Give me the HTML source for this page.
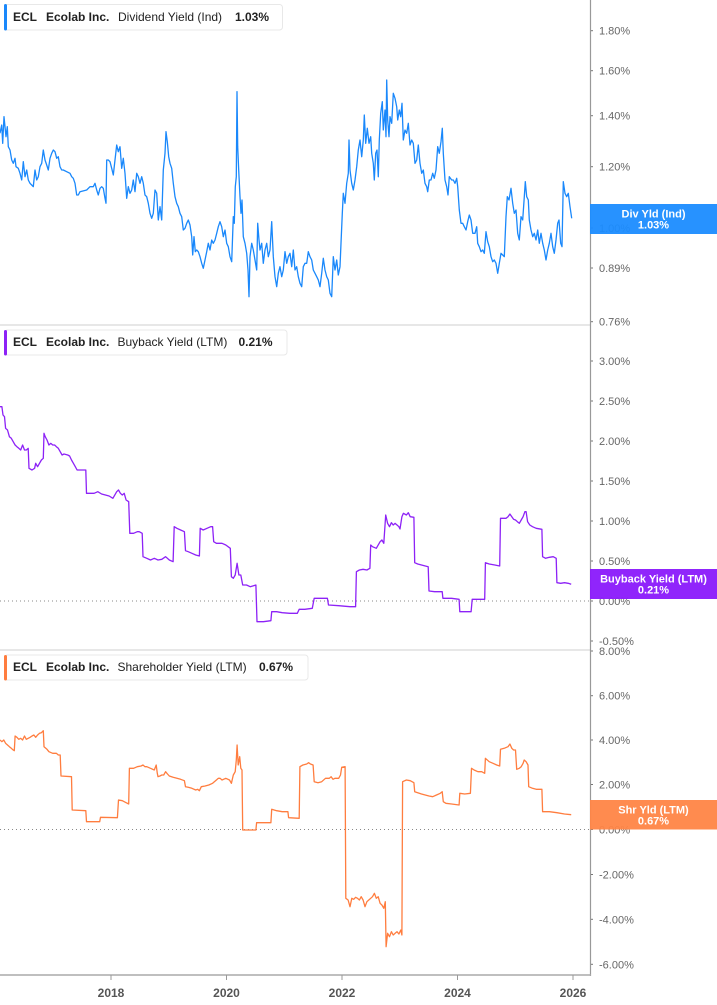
<!DOCTYPE html>
<html><head><meta charset="utf-8"><style>
html,body{margin:0;padding:0;background:#fff;}
svg{display:block;font-family:"Liberation Sans",Arial,sans-serif;}
.tk{font-size:11px;fill:#666;}
.yr{font-size:12px;font-weight:bold;fill:#555;text-anchor:middle;}
.lg{font-size:12px;fill:#222;}
.lgb{font-size:12px;fill:#222;font-weight:bold;}
.bx{font-size:11px;fill:#fff;font-weight:bold;text-anchor:middle;}
</style></head><body>
<svg width="717" height="1005" viewBox="0 0 717 1005" xmlns="http://www.w3.org/2000/svg">
<rect width="717" height="1005" fill="#fff"/>

<!-- separators & axes -->
<line x1="0" y1="325" x2="590" y2="325" stroke="#cfcfcf" stroke-width="1"/>
<line x1="0" y1="650" x2="590" y2="650" stroke="#cfcfcf" stroke-width="1"/>
<line x1="590.5" y1="0" x2="590.5" y2="976" stroke="#999" stroke-width="1.2"/>
<line x1="0" y1="975" x2="591" y2="975" stroke="#aaa" stroke-width="1.5"/>
<line x1="0" y1="601" x2="590" y2="601" stroke="#888" stroke-width="1" stroke-dasharray="1 3"/>
<line x1="0" y1="829.5" x2="590" y2="829.5" stroke="#888" stroke-width="1" stroke-dasharray="1 3"/>

<!-- year ticks -->
<g stroke="#999" stroke-width="1">
<line x1="111" y1="975" x2="111" y2="980"/>
<line x1="226.5" y1="975" x2="226.5" y2="980"/>
<line x1="342" y1="975" x2="342" y2="980"/>
<line x1="457.5" y1="975" x2="457.5" y2="980"/>
<line x1="573" y1="975" x2="573" y2="980"/>
</g>
<text class="yr" x="111" y="997">2018</text>
<text class="yr" x="226.5" y="997">2020</text>
<text class="yr" x="342" y="997">2022</text>
<text class="yr" x="457.5" y="997">2024</text>
<text class="yr" x="573" y="997">2026</text>

<!-- right axis ticks -->
<g stroke="#777" stroke-width="1">
<line x1="591" y1="30.7" x2="593" y2="30.7"/><line x1="591" y1="70.7" x2="593" y2="70.7"/>
<line x1="591" y1="115.7" x2="593" y2="115.7"/><line x1="591" y1="166.7" x2="593" y2="166.7"/>
<line x1="591" y1="228" x2="593" y2="228"/><line x1="591" y1="268" x2="593" y2="268"/>
<line x1="591" y1="321.7" x2="593" y2="321.7"/>
<line x1="591" y1="361" x2="593" y2="361"/><line x1="591" y1="401" x2="593" y2="401"/>
<line x1="591" y1="441" x2="593" y2="441"/><line x1="591" y1="481" x2="593" y2="481"/>
<line x1="591" y1="521" x2="593" y2="521"/><line x1="591" y1="561" x2="593" y2="561"/>
<line x1="591" y1="601" x2="593" y2="601"/><line x1="591" y1="641" x2="593" y2="641"/>
<line x1="591" y1="651" x2="593" y2="651"/><line x1="591" y1="695.7" x2="593" y2="695.7"/>
<line x1="591" y1="740" x2="593" y2="740"/><line x1="591" y1="784.5" x2="593" y2="784.5"/>
<line x1="591" y1="829.5" x2="593" y2="829.5"/><line x1="591" y1="874.5" x2="593" y2="874.5"/>
<line x1="591" y1="919.3" x2="593" y2="919.3"/><line x1="591" y1="964.3" x2="593" y2="964.3"/>
</g>
<text class="tk" x="599" y="34.7">1.80%</text>
<text class="tk" x="599" y="74.7">1.60%</text>
<text class="tk" x="599" y="119.7">1.40%</text>
<text class="tk" x="599" y="170.7">1.20%</text>
<text class="tk" x="599" y="232">1.00%</text>
<text class="tk" x="599" y="272">0.89%</text>
<text class="tk" x="599" y="325.7">0.76%</text>
<text class="tk" x="599" y="365">3.00%</text>
<text class="tk" x="599" y="405">2.50%</text>
<text class="tk" x="599" y="445">2.00%</text>
<text class="tk" x="599" y="485">1.50%</text>
<text class="tk" x="599" y="525">1.00%</text>
<text class="tk" x="599" y="565">0.50%</text>
<text class="tk" x="599" y="605">0.00%</text>
<text class="tk" x="599" y="645">-0.50%</text>
<text class="tk" x="599" y="655">8.00%</text>
<text class="tk" x="599" y="699.7">6.00%</text>
<text class="tk" x="599" y="744">4.00%</text>
<text class="tk" x="599" y="788.5">2.00%</text>
<text class="tk" x="599" y="833.5">0.00%</text>
<text class="tk" x="599" y="878.5">-2.00%</text>
<text class="tk" x="599" y="923.3">-4.00%</text>
<text class="tk" x="599" y="968.3">-6.00%</text>

<!-- value boxes -->
<rect x="590" y="204" width="127" height="30" fill="#1b8cff" fill-opacity="0.95"/>
<text class="bx" x="653.5" y="217.5">Div Yld (Ind)</text>
<text class="bx" x="653.5" y="228.5">1.03%</text>
<rect x="590" y="569" width="127" height="30" fill="#8a19fb" fill-opacity="0.95"/>
<text class="bx" x="653.5" y="582.5">Buyback Yield (LTM)</text>
<text class="bx" x="653.5" y="593.5">0.21%</text>
<rect x="590" y="800" width="127" height="29.5" fill="#ff8546" fill-opacity="0.95"/>
<text class="bx" x="653.5" y="813.5">Shr Yld (LTM)</text>
<text class="bx" x="653.5" y="824.5">0.67%</text>

<!-- dividend yield -->
<polyline fill="none" stroke="#1a88fb" stroke-width="1.3" stroke-linejoin="round" points="0,133.3 1.7,125 2.7,143.3 4,116.7 6,136.7 7.3,126.7 8.3,146.7 10,150 11.7,160 13.3,163.3 15,158.3 16,166.7 18.3,168.3 20,173.3 21.7,180 23.3,161.7 25,176.7 26.7,170 28.3,180 30,183.3 31.7,185 33.3,186.7 35,170 36.7,180 38.3,176.7 40,166.7 41.7,163.3 43.3,150 45,160 46.7,165 48.3,170 50,158.3 51.7,153.3 53.3,150 55,151.7 56.7,158.3 58.3,156.7 60,166.7 61.7,170 63.3,170 66.7,171.7 70,173.3 71.7,176.7 73.3,178.3 75,183.3 76.7,195 78.3,195 80,191.7 86.7,190 90,186.7 93.3,186.7 95,183.3 96.7,190 98.3,195 100,188.3 101.7,186.7 103.3,188.3 105,198.3 106,203.3 106.7,160 108.3,160 110,161.7 111.7,168.3 113.3,175 115,160 116.7,145 118.3,151.7 120,146.7 121.7,168.3 123.3,158.3 125,173.3 126.7,198.3 128.3,186.7 130,193.3 131.7,190 133.3,180 135,191.7 136.7,173.3 138.3,176.7 140,183.3 141.7,176.7 143.3,183.3 145,195 146.7,196.7 148.3,203.3 150,213.3 151.7,218.3 153.3,213.3 155,190 156.7,193.3 158.3,220 160,206.7 161.7,220 163.3,170 165,153.3 166,131.7 167.3,141.7 168.7,156.7 170,163.3 171.7,168.3 173.3,183.3 175,196.7 176.7,203.3 178.3,206.7 180,213.3 181.7,216.7 183.3,230 185,228.3 186.7,223.3 188.3,220 190,225 191.7,236.7 192.7,255 194,236.7 195.3,251.7 196.7,250 198.3,251.7 200,256.7 201.7,263.3 203.3,268.3 205,260 206.7,251.7 208.3,243.3 210,250 211.7,240 213.3,243.3 215,240 216.7,233.3 218.3,226.7 220,221.7 221.7,226.7 223.3,236.7 225,230 226.7,243.3 228.3,246.7 230,256.7 231.7,261.7 233.3,216.7 234.3,223.3 235.3,186.7 236.3,176.7 237,91.7 237.7,146.7 238.7,170 240,196.7 241,213.3 242,200 243.3,236.7 245,243.3 246.7,253.3 248,270 249,296.7 250,256.7 251.7,243.3 253.3,250 255,260 256.7,270 257.7,223.3 259,240 260,250 261.7,243.3 263.3,263.3 265,250 266.7,243.3 268.3,256.7 270,250 271.7,221.7 273.3,256.7 275,276.7 276.7,286.7 278.3,273.3 280,266.7 281.7,276.7 283.3,270 285,251.7 286.7,263.3 288.3,256.7 290,253.3 291.7,266.7 293.3,250 295,270 296.7,266.7 298.3,276.7 300,283.3 301.7,286.7 303.3,266.7 305,263.3 306.7,263.3 308.3,251.7 310,256.7 311.7,260 313.3,270 315,273.3 316.7,276.7 318.3,280 320,286.7 321.7,273.3 323.3,258.3 325,270 326.7,276.7 328.3,280 330,293.3 331.7,296.7 333.3,256.7 335,270 336.7,260 338.3,275 340,266.7 341,243.3 342.3,213.3 343.3,193.3 345,203.3 346.7,183.3 348.3,173.3 349,140 350,170 351.7,183.3 353.3,190 355,180 356.7,166.7 358.3,150 360,140 361.7,156.7 363.3,140 364.3,115 365.7,143.3 367.3,128.3 369,143.3 370.7,136.7 371.7,153.3 373.3,163.3 374.3,180 375.7,153.3 377,150 378.3,176.7 379.3,140 380.7,113.3 382.3,101.7 383.3,130 385,110 386,136.7 386.7,80 387.7,120 389,136.7 390,116.7 391.7,123.3 393.3,93.3 395,98.3 396.7,106.7 397.7,120 399.3,110 400.7,116.7 402,103.3 403.3,140 405,130 406.7,133.3 408.3,123.3 410,145 411.7,140 413.3,143.3 415,163.3 416.7,160 418.3,145 420,163.3 421.7,173.3 423.3,170 425,183.3 426.7,186.7 427.7,191.7 429.3,180 431,180 432.7,173.3 434.3,178.3 436,170 437.7,146.7 439.3,153.3 441,141.7 442.3,128.3 443.3,153.3 445,180 446.7,186.7 448,195 449.3,176.7 451.7,180 453.3,180 455,183.3 456.7,178.3 457.7,186.7 459.3,210 461,223.3 462.7,223.3 464.3,226.7 466,230 467.7,221.7 469.3,215 471,220 472.7,233.3 475,233.3 476.7,226.7 477.7,243.3 479.3,246.7 481,251.7 482.7,250 484.3,253.3 486,231.7 487.7,241.7 489.3,246.7 491,256.7 492.7,261.7 494.3,260 496,263.3 497.7,273.3 499.3,263.3 501,253.3 502.7,255 504.3,256.7 506,216.7 507.3,196.7 509,200 511,188.3 512.7,203.3 514.3,213.3 516,210 517.7,233.3 519.3,240 521,216.7 522.7,220 524.3,196.7 525.3,181.7 526.7,196.7 528.3,200 529.3,220 531,230 532.7,236.7 534.3,233.3 536,240 537.7,230 539.3,243.3 541,233.3 542.7,243.3 544.3,250 546,260 547.7,250 549.3,243.3 551,233.3 552.7,246.7 554.3,253.3 556,240 557.7,223.3 559,220 560.7,243.3 562,246.7 563.3,181.7 565,193.3 566.7,196.7 568.3,193.3 570,206.7 571.7,218.3"/>

<!-- buyback yield -->
<polyline fill="none" stroke="#8d22f6" stroke-width="1.3" stroke-linejoin="round" points="0,406.7 1.9,406.7 3,415 4.5,416.7 5.6,428.3 7.5,430 9.4,436.7 11.3,438.3 13.2,441.7 15.1,445 16.9,446.7 18.8,448.3 20.7,450 22.6,445 24.5,450 26.3,450 28.2,448.3 29,468.3 32,470 34.6,468.3 35.7,463.3 37.6,466.7 39.5,463.3 41.4,460 43.3,458.3 44,433.3 45.2,436.7 47,440 48.9,445 50.8,443.3 52.7,445 54.6,445 56.4,446.7 58.3,448.3 60.2,451.7 62.1,455 64,454 67.7,455 69.6,456 71.5,460 73.4,463.3 75.3,466.7 77.1,470 85.8,470 86.5,493.3 94.1,493.3 97.8,491.7 101.6,494 105.4,495 109.1,496 112.9,498.3 116.7,491.7 118.5,490 120.4,493.3 122.3,495 124.2,493.3 126.1,500 128.7,501.7 129.8,533.3 133.6,533.3 137.3,531.7 139.2,531.7 142.2,533.3 143,556.7 146.8,558.3 150.5,560 154.3,558.3 158,560 161.8,559.3 165.6,556.7 169.3,560 173.1,561.7 174.2,526.7 176.9,528.3 180.6,530 184.4,531.7 185.5,550.7 188.2,551.7 191.9,553.3 195.7,555 199.4,556 200.2,528.3 203.2,530 207,528.3 210.7,526.7 212.6,526.7 213.7,541.7 216.4,543.3 222,543.3 225.8,545 230.3,548.3 231.4,576.7 233.3,578.3 235.2,575 237.1,563.3 238.9,575 240.8,575 242.7,585 246.5,585 250.2,586.7 255.9,585 257,621.7 263.4,621.7 270.9,620.7 271.7,611.7 276.6,611.7 282.2,612.7 289.8,613.3 297.3,613.3 299.2,609.3 304.8,609.3 312.3,608.3 314.2,598.3 327.4,598.3 328.5,605 338.7,605.7 350,606.7 355.6,606.7 356.4,571.7 359.4,570 363.1,569.3 366.9,570 369.9,568.3 370.7,545 372.5,546.7 376.3,548.3 380.1,541.7 381.9,540 383.8,543.3 385.7,515 387.6,523.3 389.5,526.7 391.4,522.7 393.2,525 395.1,523.3 397,525 398.9,526.7 400,529 401.9,516.7 403.4,513.3 406.4,515 408.3,512.7 410.2,516.7 413.9,517.3 414.7,562.7 417.7,564 421.5,565 428.2,566.7 429,591 434.6,591.7 442.2,591.7 442.9,598.3 451.6,598.3 459.1,599.3 459.8,611.7 471.1,611.7 472.2,599.3 484.7,599.3 485.4,562.7 489.2,564 494.8,565 499.7,566 500.5,518.3 506.1,518.3 508,516.7 509.9,514 511.8,516.7 513.6,519.3 515.5,520 517.4,521.7 519.3,523.3 521.2,520 523.1,516.7 524.9,511.7 526.1,511.7 527.6,521.7 529.8,525 532.5,526.7 536.2,528.3 541.9,529.3 542.6,556.7 545.6,558.3 549.4,557.3 553.2,556.7 556.2,558.3 556.9,582.7 560.7,583.3 564.5,582.7 568.2,583.3 571.2,584.3"/>

<!-- shareholder yield -->
<polyline fill="none" stroke="#ff7d3f" stroke-width="1.3" stroke-linejoin="round" points="0,740 1.9,741.7 3.8,740 5.6,743.3 7.5,745 9.4,746.7 11.3,748.3 13.2,750 14.3,750.7 15.1,736 16.9,737.3 18.8,739.3 20.7,738.3 22.6,740 24.5,736 26.3,739.3 28.2,738.3 30.1,737.3 32,736 33.9,735 35.7,737.3 37.6,735 39.5,733.3 41.4,732.7 43.3,730.7 44,746.7 47,749.3 48.9,751.7 52.7,753.3 56.4,753.3 58.3,755 60.2,755 61,776 71.5,776.7 72.2,810 85.8,810.7 86.5,821.7 99.7,821.7 100.5,817.3 117.4,817.7 118.5,800 122.3,800.7 126.1,802.7 128.7,804 129.4,768.3 133.6,768.3 137.3,766.7 141.1,766 143,765 144.9,766.7 146.8,766.7 150.5,768.3 154.3,770 156.2,765 157.3,773.3 158,776.7 159.9,776 161.8,775 163.7,775 165.6,771.7 167.5,774 169.3,776 173.1,777.3 176.9,778.3 180.6,779.3 184.4,780.7 185.5,786.7 188.2,787.3 191.9,788.3 195.7,790 197.6,789.3 199.4,790.7 201.3,786.7 205.1,786 208.8,785 212.6,783.3 216.4,780 218.3,778.3 220.1,778.3 222,780 225.8,778.3 229.5,780 231.4,783.3 233.3,775 235.2,771.7 236.3,760 237.1,745 238.2,765 239.7,756.7 240.8,768.3 242,770 242.7,830 255.9,830 256.6,822.7 270.9,822.7 271.7,809.3 276.6,810.7 282.2,811.7 287.9,811.7 288.6,817.7 299.2,818.3 299.9,766.7 302.9,765 306.7,764 308.6,762.7 310.4,764 313.1,765 314.2,781.7 318,782.7 321.7,781.7 325.5,778.3 329.3,778.3 331.1,776.7 333,779.3 334.9,778.3 338.7,778.3 340.5,775 341.7,767.3 345.1,766.7 345.8,898.3 348.1,900 350,906.7 351.8,898.3 353.7,899.3 355.6,897.3 357.5,898.3 359.4,900 361.2,896.7 363.1,900 365,906.7 366.9,901.7 368.8,900 370.7,898.3 372.5,896.7 374.4,893.3 376.3,898.3 378.2,896.7 380.1,903.3 381.9,905 383.8,908.3 385.3,901.7 386.1,946.7 387.6,933.3 389.5,936.7 391.4,931.7 393.2,935 395.1,933.3 397,931.7 398.9,934 400.8,930 401.9,935 402.6,781.7 406.4,780 410.2,780.7 413.9,782.7 414.7,791.7 417.7,792.7 421.5,794 425.2,795 429,796 432.7,796.7 436.5,795 440.3,793.3 442.2,791.7 443.3,801.7 445.9,803.3 451.6,804 459.1,805 459.8,793.3 464.7,794 470.4,793.3 471.5,768.3 474.1,770 477.9,771.7 481.7,771.7 484.7,773.3 485.4,758.3 489.2,761.7 493,763.3 496.7,765 499.7,766 500.5,749.3 504.2,748.3 508,746.7 509.9,744 511.8,748.3 513.6,750 515.5,750 516.7,769.3 519.3,768.3 521.2,766.7 523.1,763.3 524.2,760 526.1,761.7 528,765 528.7,786.7 532.5,788.3 536.2,789.3 541.9,789.3 542.6,811.7 549.4,811.7 556.9,812.7 564.5,814 571.2,814.7"/>

<!-- legends -->
<rect x="4.5" y="4.5" width="278" height="25.5" rx="3" fill="#fff" stroke="#e8e8e8"/>
<rect x="4" y="4" width="3" height="26.5" rx="1.5" fill="#1a88fb"/>
<text class="lgb" x="13" y="21">ECL</text>
<text class="lgb" x="46" y="21">Ecolab Inc.</text>
<text class="lg" x="118" y="21">Dividend Yield (Ind)</text>
<text class="lgb" x="235" y="21">1.03%</text>

<rect x="4.5" y="330" width="282.5" height="25" rx="3" fill="#fff" stroke="#e8e8e8"/>
<rect x="4" y="330" width="3" height="25.5" rx="1.5" fill="#8d22f6"/>
<text class="lgb" x="13" y="346">ECL</text>
<text class="lgb" x="46" y="346">Ecolab Inc.</text>
<text class="lg" x="117.5" y="346">Buyback Yield (LTM)</text>
<text class="lgb" x="238.5" y="346">0.21%</text>

<rect x="4.5" y="655" width="303.5" height="25" rx="3" fill="#fff" stroke="#e8e8e8"/>
<rect x="4" y="655" width="3" height="25.5" rx="1.5" fill="#ff7d3f"/>
<text class="lgb" x="13" y="671">ECL</text>
<text class="lgb" x="46" y="671">Ecolab Inc.</text>
<text class="lg" x="117.5" y="671">Shareholder Yield (LTM)</text>
<text class="lgb" x="259" y="671">0.67%</text>
</svg>
</body></html>
